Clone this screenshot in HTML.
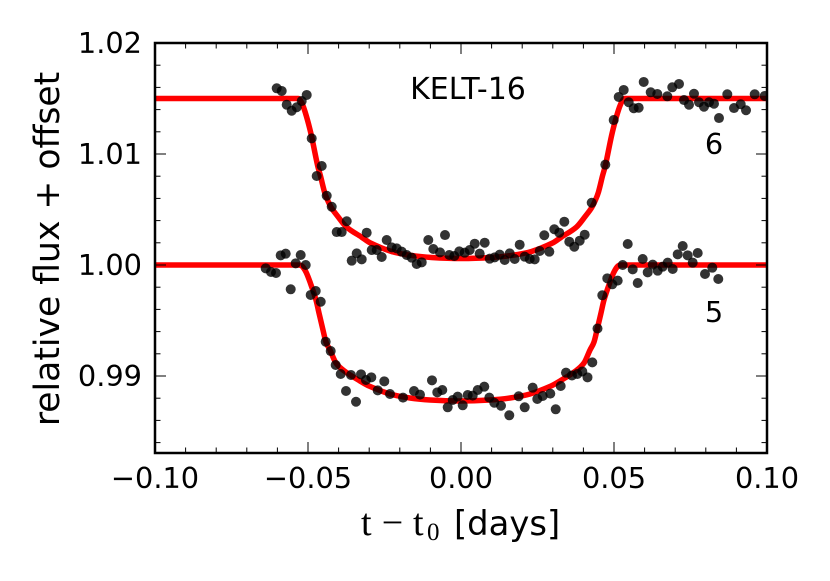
<!DOCTYPE html>
<html lang="en">
<head>
<meta charset="utf-8">
<title>KELT-16 transit light curves</title>
<style>
html,body{margin:0;padding:0;background:#fff;}
svg{display:block;}
text{font-family:"DejaVu Sans","Liberation Sans",sans-serif;fill:#000;}
</style>
</head>
<body>
<svg id="chart" xmlns="http://www.w3.org/2000/svg" width="830" height="581" viewBox="0 0 830 581">
  <defs>
    <clipPath id="plot-clip"><rect x="155" y="43" width="612" height="410"></rect></clipPath>
  </defs>
  <rect x="155" y="43" width="612" height="410" fill="#fff"></rect>
  <g id="models" clip-path="url(#plot-clip)"></g>
  <g id="points" clip-path="url(#plot-clip)"></g>
  <g id="ticks"></g>
  <rect x="155" y="43" width="612" height="410" fill="none" stroke="#000" stroke-width="2.5"></rect>
  <g id="tick-labels"></g>
  <text transform="translate(59,249) rotate(-90)" text-anchor="middle" font-size="34.6">relative flux + offset</text>
  <g>
    <text x="361" y="535" font-size="38" style="font-family:'Liberation Serif',serif">t</text>
    <text x="392.5" y="535" font-size="38" text-anchor="middle" style="font-family:'Liberation Serif',serif">−</text>
    <text x="413" y="535" font-size="38" style="font-family:'Liberation Serif',serif">t</text>
    <text x="427" y="540" font-size="25" style="font-family:'Liberation Serif',serif">0</text>
    <text x="454" y="535" font-size="33.8">[days]</text>
  </g>
  <text x="468" y="99" text-anchor="middle" font-size="30">KELT-16</text>
  <text x="714" y="154" text-anchor="middle" font-size="28.8">6</text>
  <text x="714" y="322" text-anchor="middle" font-size="28.8">5</text>
</svg>
<script>
const xTicksMajor = [-0.10, -0.05, 0.00, 0.05, 0.10];
const xTickLabels = ['−0.10', '−0.05', '0.00', '0.05', '0.10'];
const xTicksMinor = [-0.09, -0.08, -0.07, -0.06, -0.04, -0.03, -0.02, -0.01, 0.01, 0.02, 0.03, 0.04, 0.06, 0.07, 0.08, 0.09];
const yTicksMajor = [0.99, 1.00, 1.01, 1.02];
const yTickLabels = ['0.99', '1.00', '1.01', '1.02'];
const yTicksMinor = [0.984, 0.986, 0.988, 0.992, 0.994, 0.996, 0.998, 1.002, 1.004, 1.006, 1.008, 1.012, 1.014, 1.016, 1.018];

const time6 = [-0.06023, -0.05859, -0.05696, -0.05533, -0.05369, -0.05206, -0.05042, -0.04879, -0.04716, -0.04552, -0.04389, -0.04225, -0.04062, -0.03899, -0.03735, -0.03572, -0.03408, -0.03245, -0.03082, -0.02918, -0.02755, -0.02592, -0.02428, -0.02265, -0.02101, -0.01938, -0.01775, -0.01611, -0.01448, -0.01284, -0.01069, -0.00905, -0.00686, -0.00523, -0.00382, -0.00219, -0.00056, 0.00121, 0.00284, 0.00448, 0.00611, 0.00775, 0.00938, 0.01101, 0.01265, 0.01428, 0.01592, 0.01755, 0.01918, 0.02082, 0.02245, 0.02408, 0.02572, 0.02722, 0.02886, 0.03049, 0.03212, 0.03376, 0.03539, 0.03703, 0.03879, 0.04042, 0.04271, 0.04716, 0.04990, 0.05154, 0.05317, 0.05480, 0.05644, 0.05807, 0.05971, 0.06199, 0.06415, 0.06742, 0.06905, 0.07124, 0.07288, 0.07451, 0.07614, 0.07778, 0.07941, 0.08105, 0.08268, 0.08431, 0.08703, 0.08922, 0.09141, 0.09314, 0.09598, 0.09925];
const flux6 = [1.01592, 1.01568, 1.01444, 1.01390, 1.01421, 1.01477, 1.01532, 1.01141, 1.00802, 1.00892, 1.00624, 1.00525, 1.00297, 1.00297, 1.00394, 1.00039, 1.00105, 1.00051, 1.00291, 1.00135, 1.00135, 1.00072, 1.00225, 1.00159, 1.00150, 1.00120, 1.00090, 1.00066, 1.00009, 1.00024, 1.00225, 1.00144, 1.00114, 1.00270, 1.00090, 1.00081, 1.00123, 1.00111, 1.00135, 1.00192, 1.00102, 1.00201, 1.00057, 1.00069, 1.00093, 1.00045, 1.00105, 1.00054, 1.00183, 1.00075, 1.00054, 1.00051, 1.00126, 1.00268, 1.00120, 1.00322, 1.00291, 1.00390, 1.00210, 1.00165, 1.00219, 1.00273, 1.00561, 1.00904, 1.01306, 1.01514, 1.01577, 1.01466, 1.01412, 1.01417, 1.01649, 1.01556, 1.01541, 1.01520, 1.01601, 1.01631, 1.01486, 1.01444, 1.01543, 1.01466, 1.01426, 1.01466, 1.01453, 1.01324, 1.01538, 1.01414, 1.01448, 1.01394, 1.01538, 1.01523];

const time5 = [-0.06382, -0.06209, -0.06046, -0.05892, -0.05729, -0.05565, -0.05402, -0.05239, -0.05075, -0.04912, -0.04748, -0.04585, -0.04422, -0.04258, -0.04095, -0.03931, -0.03758, -0.03595, -0.03431, -0.03268, -0.03105, -0.02931, -0.02722, -0.02507, -0.02320, -0.01895, -0.01536, -0.01340, -0.00948, -0.00775, -0.00611, -0.00435, -0.00271, -0.00108, 0.00056, 0.00219, 0.00382, 0.00546, 0.00761, 0.00925, 0.01088, 0.01307, 0.01578, 0.01886, 0.02082, 0.02343, 0.02493, 0.02670, 0.02918, 0.03095, 0.03258, 0.03431, 0.03627, 0.03801, 0.03964, 0.04134, 0.04291, 0.04461, 0.04618, 0.04781, 0.04944, 0.05121, 0.05284, 0.05448, 0.05611, 0.05775, 0.05938, 0.06101, 0.06265, 0.06428, 0.06591, 0.06755, 0.06918, 0.07082, 0.07245, 0.07408, 0.07572, 0.07735, 0.07974, 0.08212, 0.08408];
const flux5 = [0.99970, 0.99937, 0.99928, 1.00087, 1.00102, 0.99781, 1.00015, 1.00090, 1.00000, 0.99730, 0.99766, 0.99669, 0.99309, 0.99225, 0.99099, 0.99018, 0.98865, 0.99009, 0.98768, 0.99015, 0.98964, 0.98988, 0.98871, 0.98952, 0.98838, 0.98805, 0.98865, 0.98832, 0.98961, 0.98853, 0.98874, 0.98718, 0.98784, 0.98814, 0.98736, 0.98829, 0.98823, 0.98874, 0.98904, 0.98805, 0.98759, 0.98732, 0.98646, 0.98817, 0.98718, 0.98895, 0.98793, 0.98820, 0.98841, 0.98700, 0.98910, 0.99030, 0.99005, 0.99018, 0.99041, 0.98988, 0.99123, 0.99428, 0.99727, 0.99880, 0.99826, 0.99859, 1.00000, 1.00189, 0.99961, 0.99838, 1.00054, 0.99934, 1.00003, 0.99949, 0.99985, 1.00021, 0.99964, 1.00096, 1.00171, 1.00087, 1.00021, 1.00108, 0.99919, 0.99976, 0.99874];

const modelPhase = [0.10, 0.05327, 0.05261, 0.05163, 0.05033, 0.04902, 0.04706, 0.04608, 0.04477, 0.04379, 0.04248, 0.04052, 0.03758, 0.03268, 0.02974, 0.02288, 0.01634, 0.00980, 0];
const modelFlux6 = [1.01500, 1.01500, 1.01482, 1.01423, 1.01306, 1.01162, 1.00901, 1.00802, 1.00658, 1.00586, 1.00514, 1.00441, 1.00342, 1.00252, 1.00198, 1.00122, 1.00086, 1.00068, 1.00059];
const modelFlux5 = [1.00000, 1.00000, 1.00000, 0.99991, 0.99937, 0.99847, 0.99685, 0.99568, 0.99414, 0.99306, 0.99234, 0.99117, 0.99041, 0.98955, 0.98910, 0.98838, 0.98802, 0.98784, 0.98775];
const center6 = 0.00016;
const center5 = -0.00033;

const xScale = t => 461 + (t / 0.2) * 612;
const yScale = v => 265 - (v - 1) * 11100;
const svgNS = 'http://www.w3.org/2000/svg';
const modelsLayer = document.getElementById('models');
const pointsLayer = document.getElementById('points');
const ticksLayer = document.getElementById('ticks');
const labelsLayer = document.getElementById('tick-labels');

function create(tag, attrs, parent) {
  const el = document.createElementNS(svgNS, tag);
  for (const k in attrs) el.setAttribute(k, attrs[k]);
  parent.appendChild(el);
  return el;
}

function smoothPath(pts) {
  let d = 'M' + pts[0][0].toFixed(2) + ' ' + pts[0][1].toFixed(2);
  for (let i = 0; i < pts.length - 1; i++) {
    const p0 = pts[Math.max(i - 1, 0)];
    const p1 = pts[i];
    const p2 = pts[i + 1];
    const p3 = pts[Math.min(i + 2, pts.length - 1)];
    const seg = p2[0] - p1[0];
    const s1 = (p2[1] - p0[1]) / Math.max(p2[0] - p0[0], 0.01);
    const s2 = (p3[1] - p1[1]) / Math.max(p3[0] - p1[0], 0.01);
    const flat = Math.abs(p2[1] - p1[1]) < 0.01;
    const m1 = flat ? 0 : s1;
    const m2 = flat ? 0 : s2;
    d += 'C' + (p1[0] + seg / 3).toFixed(2) + ' ' + (p1[1] + m1 * seg / 3).toFixed(2) + ' ' +
         (p2[0] - seg / 3).toFixed(2) + ' ' + (p2[1] - m2 * seg / 3).toFixed(2) + ' ' +
         p2[0].toFixed(2) + ' ' + p2[1].toFixed(2);
  }
  return d;
}

function drawModel(flux, center) {
  const pts = [];
  for (let i = 0; i < modelPhase.length; i++) {
    pts.push([xScale(center - modelPhase[i]), yScale(flux[i])]);
  }
  for (let i = modelPhase.length - 2; i >= 0; i--) {
    pts.push([xScale(center + modelPhase[i]), yScale(flux[i])]);
  }
  return create('path', {
    d: smoothPath(pts), fill: 'none', stroke: '#ff0000',
    'stroke-width': 5.5, 'stroke-linejoin': 'round', 'stroke-linecap': 'butt'
  }, modelsLayer);
}

const model6 = drawModel(modelFlux6, center6);


const model5 = drawModel(modelFlux5, center5);



function drawPoints(times, flux, name) {
  for (let i = 0; i < times.length; i++) {
    const c = create('circle', {
      cx: xScale(times[i]).toFixed(2), cy: yScale(flux[i]).toFixed(2), r: 5,
      fill: '#000', 'fill-opacity': 0.8
    }, pointsLayer);
    
    
  }
}
drawPoints(time6, flux6, 'data-point-epoch-6');
drawPoints(time5, flux5, 'data-point-epoch-5');

const top_ = 43, bottom_ = 453, left_ = 155, right_ = 767;

function xTick(t, len) {
  const x = xScale(t);
  const a = create('line', {x1: x, x2: x, y1: bottom_, y2: bottom_ - len, stroke: '#000', 'stroke-width': 1}, ticksLayer);
  
  
  const b = create('line', {x1: x, x2: x, y1: top_, y2: top_ + len, stroke: '#000', 'stroke-width': 1}, ticksLayer);
  
  
}
function yTick(v, len) {
  const y = yScale(v);
  const a = create('line', {y1: y, y2: y, x1: left_, x2: left_ + len, stroke: '#000', 'stroke-width': 1}, ticksLayer);
  
  
  const b = create('line', {y1: y, y2: y, x1: right_, x2: right_ - len, stroke: '#000', 'stroke-width': 1}, ticksLayer);
  
  
}
xTicksMajor.forEach(t => xTick(t, 11));
xTicksMinor.forEach(t => xTick(t, 5.5));
yTicksMajor.forEach(v => yTick(v, 11));
yTicksMinor.forEach(v => yTick(v, 5.5));

xTicksMajor.forEach((t, i) => {
  const l = create('text', {x: xScale(t), y: 488, 'text-anchor': 'middle', 'font-size': 28.8}, labelsLayer);
  l.textContent = xTickLabels[i];
  
  
});
yTicksMajor.forEach((v, i) => {
  const l = create('text', {x: 142, y: yScale(v) + 10, 'text-anchor': 'end', 'font-size': 28.8}, labelsLayer);
  l.textContent = yTickLabels[i];
  
  
});
</script>
</body>
</html>
